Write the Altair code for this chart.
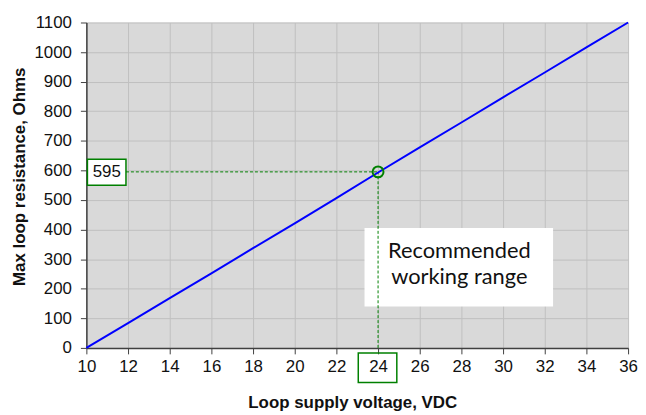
import altair as alt
import pandas as pd

# Data
volts = [10, 12, 14, 16, 18, 20, 22, 24, 26, 28, 30, 32, 34, 36]
resistance = [0, 84, 168, 252, 337, 421, 506, 593, 678, 762, 847, 931, 1016, 1100]

x_ticks = [10, 12, 14, 16, 18, 20, 22, 24, 26, 28, 30, 32, 34, 36]
y_ticks = [0, 100, 200, 300, 400, 500, 600, 700, 800, 900, 1000, 1100]

op_v = [24]
op_r = [595]

# annotation box (data coordinates)
note_x = [23.35]
note_x2 = [32.4]
note_y = [405]
note_y2 = [140]
note_tx = [27.9]
note_ty = [362]
note_text = [["Recommended", "working range"]]

# value label boxes
lab595_x = [10.05]
lab595_x2 = [11.9]
lab595_y = [638]
lab595_y2 = [550]
lab24_x = [23.05]
lab24_x2 = [24.9]
lab24_y = [-17]
lab24_y2 = [-117]

curve = pd.DataFrame({"v": volts, "r": resistance})
op = pd.DataFrame({"v": op_v, "r": op_r})
hline = pd.DataFrame({"x": [lab595_x2[0]], "x2": op_v, "y": op_r})
vline = pd.DataFrame({"x": op_v, "y": [0], "y2": op_r})
note = pd.DataFrame({"x": note_x, "x2": note_x2, "y": note_y, "y2": note_y2,
                     "tx": note_tx, "ty": note_ty, "t": note_text})
box595 = pd.DataFrame({"x": lab595_x, "x2": lab595_x2, "y": lab595_y, "y2": lab595_y2,
                       "tx": [(lab595_x[0] + lab595_x2[0]) / 2], "ty": [(lab595_y[0] + lab595_y2[0]) / 2],
                       "t": [str(op_r[0])]})
box24 = pd.DataFrame({"x": lab24_x, "x2": lab24_x2, "y": lab24_y, "y2": lab24_y2})

xscale = alt.Scale(domain=[10, 36], nice=False, zero=False)
yscale = alt.Scale(domain=[0, 1100], nice=False)

axis_common = dict(
    grid=True, gridColor="#bfbfbf", gridWidth=1,
    domainColor="#404040", domainWidth=1.5,
    tickColor="#404040", tickSize=6, tickWidth=1,
    labelFont="Liberation Sans", labelFontSize=17, labelColor="#111111",
    titleFont="Liberation Sans", titleFontSize=17, titleFontWeight="bold",
    titleColor="#111111", labelOverlap=False, format="d",
)

xaxis = alt.Axis(values=x_ticks, title="Loop supply voltage, VDC", labelPadding=5,
                 titleX=268, titleY=60, titleBaseline="alphabetic", titleAlign="center",
                 labelFlush=False, **axis_common)
yaxis = alt.Axis(values=y_ticks, title="Max loop resistance, Ohms", labelPadding=9,
                 titleX=-62, titleY=155, titleBaseline="alphabetic", titleAlign="center",
                 titleAngle=270, labelFlush=False, **axis_common)


def X(f):
    return alt.X(f, type="quantitative", scale=xscale, axis=xaxis)


def Y(f):
    return alt.Y(f, type="quantitative", scale=yscale, axis=yaxis)


note_rect = alt.Chart(note).mark_rect(fill="white", stroke=None).encode(
    x=X("x"), x2="x2:Q", y=Y("y"), y2="y2:Q")

line = alt.Chart(curve).mark_line(color="#0000ff", strokeWidth=2).encode(
    x=X("v"), y=Y("r"))

note_txt = alt.Chart(note).mark_text(font="Lato", fontSize=22, color="#111111",
                                     lineHeight=27, baseline="top", align="center").encode(
    x=X("tx"), y=Y("ty"), text="t")

h = alt.Chart(hline).mark_rule(color="#008000", strokeDash=[3, 2], strokeWidth=1).encode(
    x=X("x"), x2="x2:Q", y=Y("y"))
v = alt.Chart(vline).mark_rule(color="#008000", strokeDash=[3, 2], strokeWidth=1).encode(
    x=X("x"), y=Y("y"), y2="y2:Q")

pt = alt.Chart(op).mark_point(shape="circle", size=120, color="#008000", strokeWidth=2,
                              filled=False, opacity=1).encode(x=X("v"), y=Y("r"))

b595 = alt.Chart(box595).mark_rect(fill="white", stroke="#008000", strokeWidth=1.5).encode(
    x=X("x"), x2="x2:Q", y=Y("y"), y2="y2:Q")
t595 = alt.Chart(box595).mark_text(font="Liberation Sans", fontSize=17, color="#111111",
                                   baseline="middle", align="center").encode(
    x=X("tx"), y=Y("ty"), text="t")

b24 = alt.Chart(box24).mark_rect(fill=None, fillOpacity=0, stroke="#008000", strokeWidth=1.5,
                                 clip=False).encode(
    x=X("x"), x2="x2:Q", y=Y("y"), y2="y2:Q")

chart = alt.layer(note_rect, v, h, line, pt, b595, t595, b24, note_txt).properties(
    width=546, height=328,
    autosize=alt.AutoSizeParams(type="none"),
    padding={"left": 79, "top": 13, "right": 10, "bottom": 64},
    background="white",
).configure_view(fill="#d9d9d9", stroke=None)

chart.save("out.html", embed_options={"renderer": "svg", "actions": False})
